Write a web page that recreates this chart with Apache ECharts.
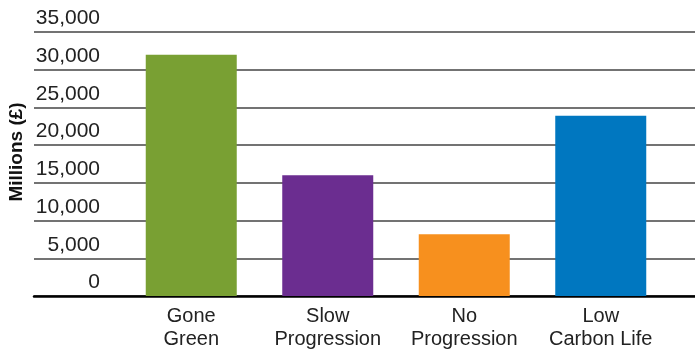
<!DOCTYPE html>
<html>
<head>
<meta charset="utf-8">
<script src="https://cdn.jsdelivr.net/npm/echarts@6/dist/echarts.min.js"></script>
<style>html,body{margin:0;padding:0;background:#fff}#c{width:695px;height:351px}</style>
</head>
<body>
<div id="c"></div>
<script>
const categories = ['Gone\nGreen', 'Slow\nProgression', 'No\nProgression', 'Low\nCarbon Life'];
const values = [32000, 16000, 8200, 23900];
const barColors = ['#79A033', '#6B2D90', '#F7901E', '#0077C0'];
const yTicks = { min: 0, max: 35000, interval: 5000 };
const yName = 'Millions (£)';

const chart = echarts.init(document.getElementById('c'), null, { renderer: 'canvas' });
const font = 'Liberation Sans, Arial, sans-serif';
chart.setOption({
  animation: false,
  grid: [
    { left: 34, right: 0, top: 32, bottom: 55 },
    { left: 123, right: 26, top: 32, bottom: 55 }
  ],
  graphic: [{
    type: 'text', x: 17, y: 152, rotation: Math.PI / 2,
    style: { text: yName, fontSize: 19, fontWeight: 'bold', fill: '#111', fontFamily: font,
      align: 'center', verticalAlign: 'middle' }
  }],
  xAxis: [
    { type: 'value', gridIndex: 0, min: 0, max: 1, show: true,
      axisLabel: { show: false }, axisTick: { show: false }, splitLine: { show: false },
      axisLine: { show: true, lineStyle: { color: '#000', width: 2.5 } } },
    { type: 'category', gridIndex: 1, data: categories,
      axisLine: { show: false }, axisTick: { show: false },
      axisLabel: { color: '#222', fontSize: 20, fontFamily: font, lineHeight: 23, margin: 9, interval: 0 } }
  ],
  yAxis: [
    { type: 'value', gridIndex: 0, min: yTicks.min, max: yTicks.max, interval: yTicks.interval,
      axisLine: { show: false }, axisTick: { show: false },
      axisLabel: { color: '#222', fontSize: 21, fontFamily: font, align: 'right', margin: -66,
        verticalAlign: 'bottom', lineHeight: 21, padding: [0, 0, 3, 0],
        formatter: v => v.toLocaleString('en-US') },
      splitLine: { show: true, lineStyle: { color: '#444', width: 1.5 } } },
    { type: 'value', gridIndex: 1, min: yTicks.min, max: yTicks.max, interval: yTicks.interval, show: false,
      splitLine: { show: false } }
  ],
  series: [{
    type: 'bar', xAxisIndex: 1, yAxisIndex: 1, barWidth: 91,
    data: values.map((v, i) => ({ value: v, itemStyle: { color: barColors[i] } }))
  }]
});
</script>
</body>
</html>
